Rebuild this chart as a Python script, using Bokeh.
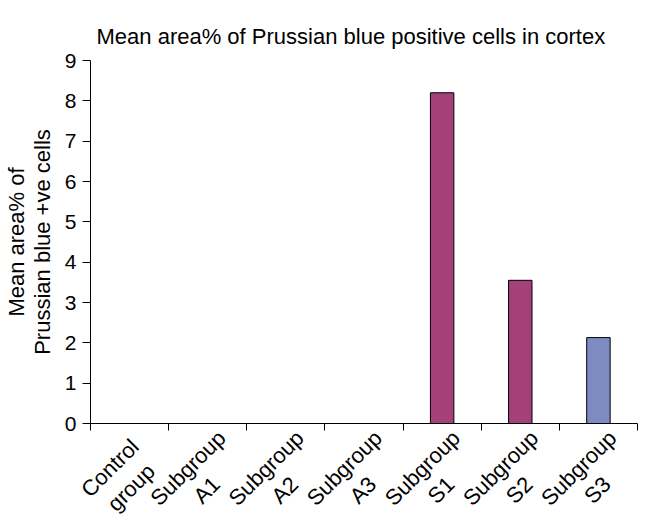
import math
from bokeh.plotting import figure
from bokeh.models import FixedTicker, Range1d, ColumnDataSource
from bokeh.embed import file_html
from bokeh.resources import INLINE

# ---- data ----
groups = ["Control\ngroup", "Subgroup\nA1", "Subgroup\nA2", "Subgroup\nA3",
          "Subgroup\nS1", "Subgroup\nS2", "Subgroup\nS3"]
mean_area = [0, 0, 0, 0, 8.2, 3.55, 2.13]
y_ticks = [0, 1, 2, 3, 4, 5, 6, 7, 8, 9]

# ---- styling ----
bar_colors = ["#A4407A", "#A4407A", "#A4407A", "#A4407A", "#A4407A", "#A4407A", "#7E8AC2"]
FONT = "Liberation Sans"

# approximate Arial/Liberation Sans advance widths (em) to center the
# two-line tick labels (Bokeh right-aligns rotated multi-line labels)
W = {"C": .722, "o": .556, "n": .556, "t": .278, "r": .333, "l": .222,
     "g": .556, "u": .556, "p": .556, "S": .667, "b": .556, "A": .667,
     "1": .556, "2": .556, "3": .556}
NBSP = "\u00a0"


def tw(s):
    return sum(W.get(c, .556) for c in s)


full_w = max(tw(line) for g in groups for line in g.split("\n"))


def centered(label):
    out = []
    for line in label.split("\n"):
        n = int(round((full_w - tw(line)) / 2 / 0.278))
        out.append(line + NBSP * n)
    return "\n".join(out)


positions = list(range(1, len(groups) + 1))
boundaries = [p - 0.5 for p in positions] + [positions[-1] + 0.5]
label_shift = 0.31
label_pos = [p + label_shift for p in positions]

src = ColumnDataSource(dict(x=positions, top=mean_area, color=bar_colors))

p = figure(frame_width=547, frame_height=363, output_backend="svg", toolbar_location=None,
           x_range=Range1d(0.5, len(groups) + 0.5), y_range=Range1d(0, 9),
           min_border_left=88, min_border_right=10, min_border_top=60, min_border_bottom=80,
           title="Mean area% of Prussian blue positive cells in cortex")

p.vbar(x="x", top="top", width=0.3, bottom=0, fill_color="color", line_color="black",
       line_width=1, source=src)

p.title.text_font = FONT
p.title.text_font_size = "22px"
p.title.text_font_style = "normal"
p.title.align = "left"
p.title.offset = 6
p.title.standoff = 23
p.title.text_color = "black"

p.outline_line_color = None
p.xgrid.visible = False
p.ygrid.visible = False
p.background_fill_color = "white"
p.border_fill_color = "white"

# x axis: labels near centers, tick marks at boundaries (minor ticks)
xa = p.xaxis[0]
xa.ticker = FixedTicker(ticks=label_pos, minor_ticks=boundaries)
xa.major_label_overrides = {lp: centered(g) for lp, g in zip(label_pos, groups)}
xa.major_tick_in = 0
xa.major_tick_out = 0
xa.minor_tick_in = 0
xa.minor_tick_out = 7
xa.minor_tick_line_color = "black"
xa.axis_line_color = "black"
xa.major_label_orientation = math.pi / 4
xa.major_label_text_font = FONT
xa.major_label_text_font_size = "22px"
xa.major_label_text_color = "black"
xa.major_label_text_line_height = 1.15
xa.major_label_standoff = 14

ya = p.yaxis[0]
ya.ticker = FixedTicker(ticks=y_ticks, minor_ticks=[])
ya.major_tick_in = 0
ya.major_tick_out = 8
ya.minor_tick_out = 0
ya.minor_tick_in = 0
ya.axis_line_color = "black"
ya.major_label_text_font = FONT
ya.major_label_text_font_size = "21px"
ya.major_label_text_color = "black"
ya.major_label_standoff = 6
ya.axis_label = "Mean area% of\nPrussian blue +ve cells"
ya.axis_label_text_font = FONT
ya.axis_label_text_font_size = "22px"
ya.axis_label_text_font_style = "normal"
ya.axis_label_text_color = "black"
ya.axis_label_text_line_height = 1.05
ya.axis_label_standoff = 7

open("out.html", "w").write(file_html(p, INLINE))
